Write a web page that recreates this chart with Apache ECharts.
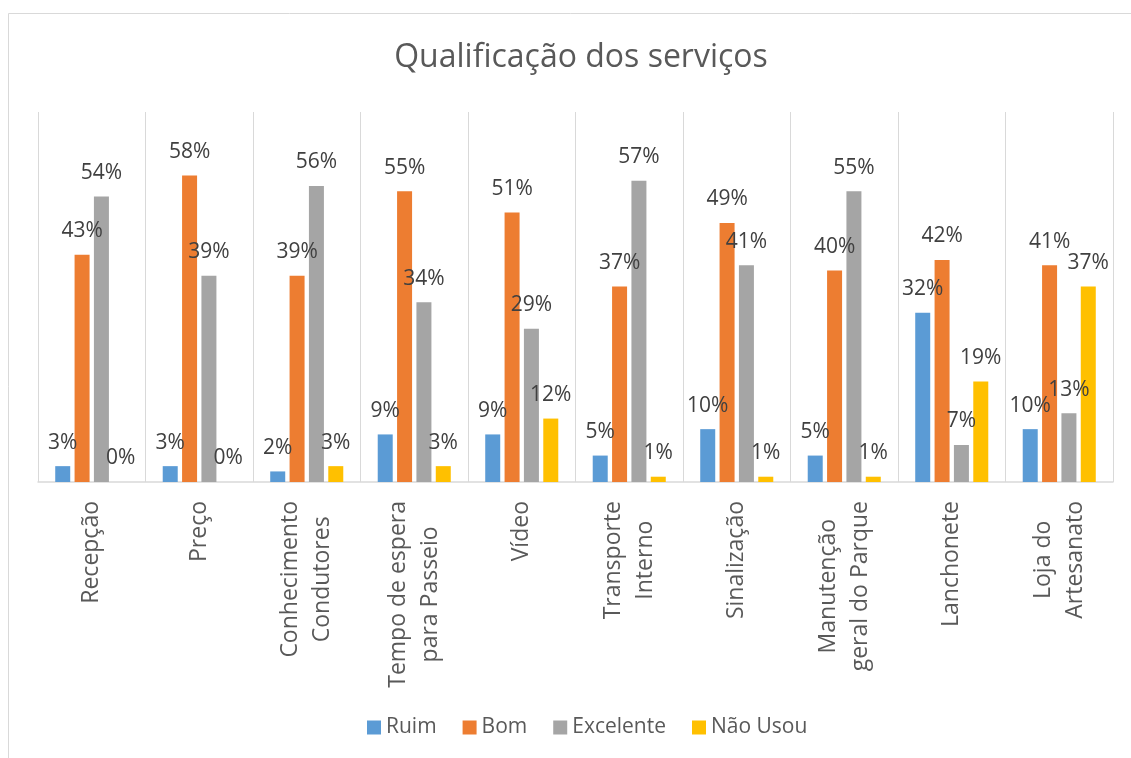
<!DOCTYPE html>
<html>
<head>
<meta charset="utf-8">
<title>Qualificação dos serviços</title>
<script src="https://cdn.jsdelivr.net/npm/echarts@6/dist/echarts.min.js"></script>
<style>
  html, body { margin: 0; padding: 0; background: #ffffff; }
  #chart { width: 1131px; height: 758px; }
</style>
</head>
<body>
<div id="chart"></div>
<script>
// Service categories (line breaks mark where the axis label wraps)
const categories = [
  'Recepção',
  'Preço',
  'Conhecimento\nCondutores',
  'Tempo de espera\npara Passeio',
  'Vídeo',
  'Transporte\nInterno',
  'Sinalização',
  'Manutenção\ngeral do Parque',
  'Lanchonete',
  'Loja do\nArtesanato'
];

// Share of answers per rating (%)
const ruim      = [3, 3, 2, 9, 9, 5, 10, 5, 32, 10];
const bom       = [43, 58, 39, 55, 51, 37, 49, 40, 42, 41];
const excelente = [54, 39, 56, 34, 29, 57, 41, 55, 7, 13];
const naoUsou   = [0, 0, 3, 3, 12, 1, 1, 1, 19, 37];

const seriesNames  = ['Ruim', 'Bom', 'Excelente', 'Não Usou'];
const seriesColors = ['#5B9BD5', '#ED7D31', '#A5A5A5', '#FFC000'];
const seriesValues = [ruim, bom, excelente, naoUsou];

const FONT = '"Open Sans", "Liberation Sans", sans-serif';

const chart = echarts.init(document.getElementById('chart'), null, { renderer: 'canvas' });

const series = seriesNames.map((name, i) => ({
  name: name,
  type: 'bar',
  data: seriesValues[i],
  barWidth: 15,
  barGap: '29%',
  itemStyle: { color: seriesColors[i] },
  label: {
    show: true,
    position: 'top',
    distance: 13,
    formatter: '{c}%',
    color: '#404040',
    fontFamily: FONT,
    fontSize: 21
  }
}));

chart.setOption({
  animation: false,
  backgroundColor: '#ffffff',
  color: seriesColors,
  title: {
    text: 'Qualificação dos serviços',
    left: 576,
    textAlign: 'center',
    top: 37,
    textStyle: {
      color: '#595959',
      fontFamily: FONT,
      fontSize: 32,
      fontWeight: 'normal'
    }
  },
  legend: {
    bottom: 15,
    left: 362,
    itemWidth: 14,
    itemHeight: 14,
    itemGap: 26,
    icon: 'rect',
    textStyle: {
      color: '#595959',
      fontFamily: FONT,
      fontSize: 21
    },
    data: seriesNames
  },
  grid: {
    left: 38,
    right: 18,
    top: 112,
    bottom: 276,
    containLabel: false,
    outerBoundsMode: 'none'
  },
  xAxis: {
    type: 'category',
    data: categories,
    boundaryGap: true,
    axisLine: { show: true, lineStyle: { color: '#D9D9D9', width: 1.5 } },
    axisTick: { show: false },
    splitLine: { show: true, lineStyle: { color: '#D9D9D9', width: 1 } },
    axisLabel: {
      interval: 0,
      rotate: 90,
      margin: 19,
      color: '#595959',
      fontFamily: FONT,
      fontSize: 23,
      lineHeight: 32,
      formatter: function (value) {
        return value.split('\n').map(line => '{c|' + line + '}').join('\n');
      },
      rich: {
        c: {
          align: 'center',
          color: '#595959',
          fontFamily: FONT,
          fontSize: 23,
          lineHeight: 32
        }
      }
    }
  },
  yAxis: {
    type: 'value',
    min: 0,
    max: 70,
    interval: 10,
    show: false,
    splitLine: { show: false }
  },
  graphic: [{
    type: 'rect',
    silent: true,
    z: -1,
    shape: { x: 8.5, y: 13.5, width: 1200, height: 800 },
    style: { fill: 'none', stroke: '#D9D9D9', lineWidth: 1 }
  }],
  series: series
});
</script>
</body>
</html>
